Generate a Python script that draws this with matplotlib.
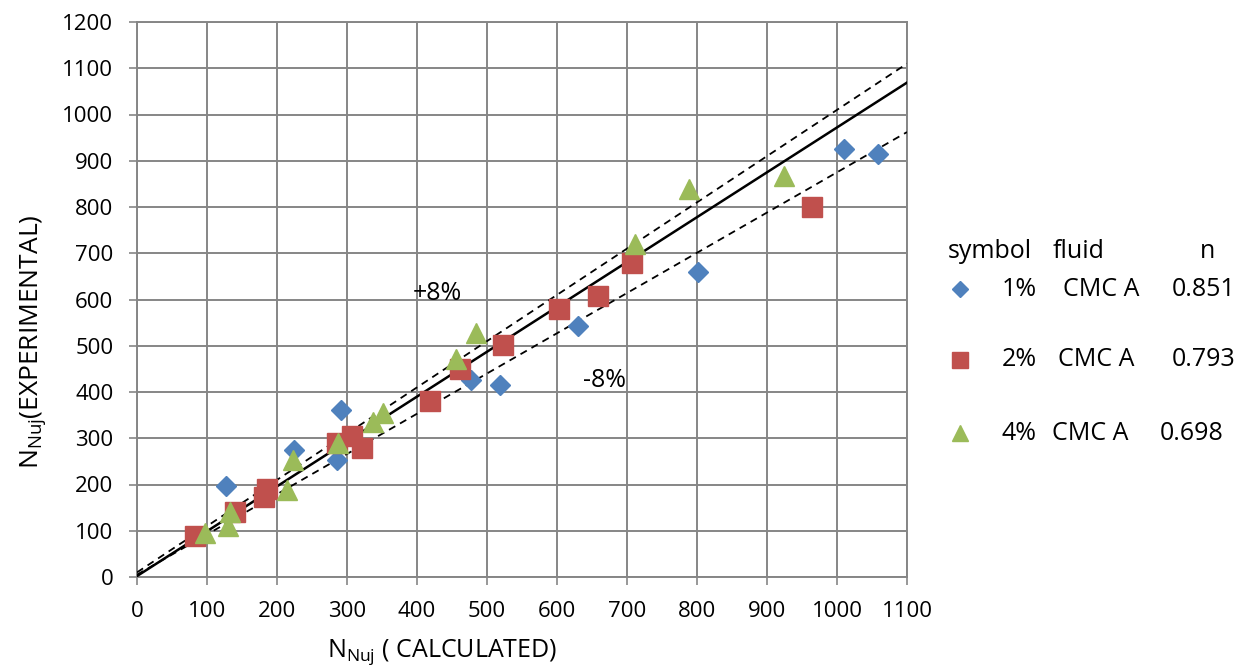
import numpy as np
import matplotlib.pyplot as plt
from matplotlib.lines import Line2D

plt.rcParams['font.family'] = ['Open Sans', 'DejaVu Sans']

# data
blue_x = [127, 224, 292, 285, 477, 518, 630, 802, 1010, 1058]
blue_y = [197, 275, 361, 252, 426, 415, 543, 660, 925, 914]

red_x = [83, 140, 185, 182, 285, 307, 321, 419, 462, 523, 603, 659, 707, 964]
red_y = [89, 141, 191, 172, 290, 305, 280, 381, 449, 502, 580, 607, 678, 801]

green_x = [97, 130, 133, 214, 223, 287, 337, 351, 456, 484, 711, 788, 924]
green_y = [95, 110, 141, 188, 253, 290, 336, 354, 471, 527, 720, 840, 866]

# fit line and +/-8% band (slope, intercept)
fit_line = (0.97, 2)
upper_line = (1.0, 10)
lower_line = (0.87, 5)

x_ticks = list(range(0, 1101, 100))
y_ticks = list(range(0, 1201, 100))

legend_rows = [("1%", "CMC A", "0.851"), ("2%", "CMC A", "0.793"), ("4%", "CMC A", "0.698")]

blue = '#4F81BD'
red = '#C0504D'
green = '#9BBB59'
grid_c = '#868686'

W, H = 1246, 671
fig = plt.figure(figsize=(W / 100, H / 100), dpi=100)
ax = fig.add_axes([137 / W, 1 - 577 / H, (907 - 137) / W, (577 - 22) / H])

xx = np.array([0, 1100])
ax.plot(xx, fit_line[0] * xx + fit_line[1], color='black', lw=1.8, zorder=3)
ax.plot(xx, upper_line[0] * xx + upper_line[1], color='black', lw=1.3, ls=(0, (4, 3)), zorder=3)
ax.plot(xx, lower_line[0] * xx + lower_line[1], color='black', lw=1.3, ls=(0, (4, 3)), zorder=3)

ax.plot(blue_x, blue_y, 'D', color=blue, ms=10, mec=blue, zorder=4)
ax.plot(red_x, red_y, 's', color=red, ms=14, mec=red, zorder=4)
ax.plot(green_x, green_y, '^', color=green, ms=14.5, mec=green, zorder=4)

ax.set_xlim(0, 1100)
ax.set_ylim(0, 1200)
ax.set_xticks(x_ticks)
ax.set_yticks(y_ticks)
ax.grid(True, color=grid_c, lw=1.4)
ax.set_axisbelow(True)
for s in ax.spines.values():
    s.set_color(grid_c)
    s.set_linewidth(1.4)
ax.tick_params(colors=grid_c, labelcolor='black', labelsize=16, length=6, width=1.2)
ax.tick_params(axis='y', pad=11)
ax.tick_params(axis='x', pad=11)

def fx(px):
    return px / W

def fy(py):
    return 1 - py / H

# axis titles, placed where Excel put them
fig.text(fx(442), fy(657), r'N$_{\mathregular{Nuj}}$ ( CALCULATED)', fontsize=18,
         ha='center', va='baseline')
fig.text(fx(34), fy(342), r'N$_{\mathregular{Nuj}}$(EXPERIMENTAL)', fontsize=19,
         ha='center', va='center', rotation=90)

ax.text(394, 599, '+8%', fontsize=18, va='baseline')
ax.text(637, 411, '-8%', fontsize=18, va='baseline')

# hand-made legend on the right
fig.text(fx(948), fy(252), 'symbol', fontsize=18, va='center')
fig.text(fx(1053), fy(252), 'fluid', fontsize=18, va='center')
fig.text(fx(1200), fy(252), 'n', fontsize=18, va='center')

row_y = [289, 360, 433]
markers = [('D', blue, 8.5), ('s', red, 12), ('^', green, 12)]
fluid_x = [1063, 1058, 1052]
n_x = [1172, 1172, 1160]
for i, (pct, fluid, n) in enumerate(legend_rows):
    m, c, ms = markers[i]
    fig.add_artist(Line2D([fx(960)], [fy(row_y[i])], transform=fig.transFigure,
                          marker=m, color=c, ms=ms, ls='none'))
    fig.text(fx(1002), fy(row_y[i]), pct, fontsize=18, va='center')
    fig.text(fx(fluid_x[i]), fy(row_y[i]), fluid, fontsize=18, va='center')
    fig.text(fx(n_x[i]), fy(row_y[i]), n, fontsize=18, va='center')

fig.savefig('out.png', dpi=100)
